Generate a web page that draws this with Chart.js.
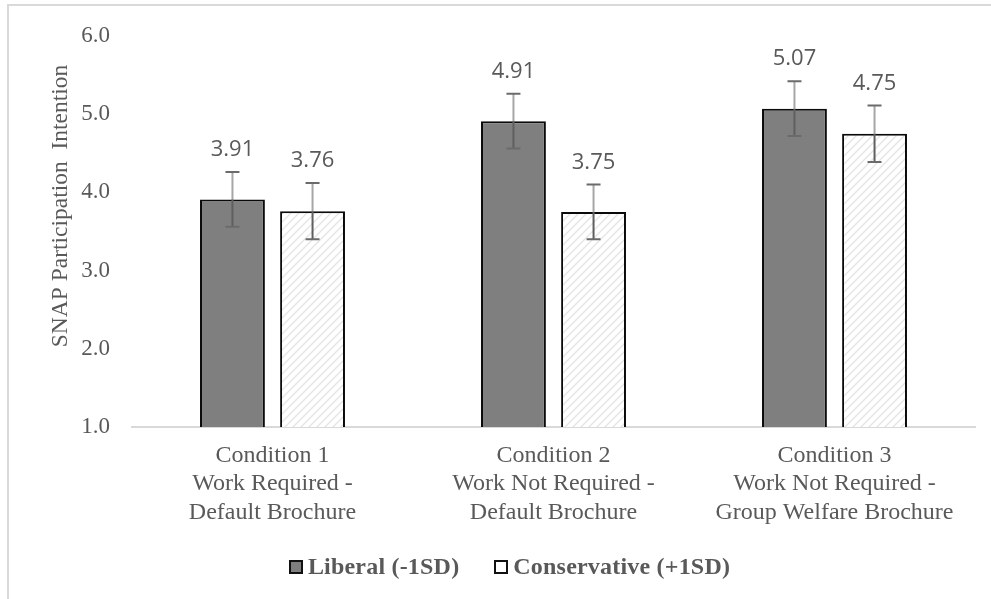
<!DOCTYPE html>
<html>
<head>
<meta charset="utf-8">
<script src="https://cdn.jsdelivr.net/npm/chart.js@4"></script>
<style>
  html, body { margin:0; padding:0; background:#fff; }
  #wrap { position:relative; width:991px; height:599px; overflow:hidden; }
  #frame { position:absolute; left:7px; top:4px; right:-5px; bottom:-5px; border-left:2px solid #d9d9d9; border-top:2px solid #d9d9d9; }
  #legend { position:absolute; left:14px; width:991px; top:553px; display:flex; justify-content:center; gap:35px;
            font-family:'Liberation Serif', serif; font-weight:bold; font-size:24px; letter-spacing:0.2px; color:#595959; }
  #legend span.item { display:flex; align-items:center; }
  #legend span.box { display:inline-block; width:10px; height:10px; border:2px solid #111; margin-right:5px; margin-left:-18px; }
</style>
</head>
<body>
<div id="wrap">
  <div id="frame"></div>
  <canvas id="c" width="991" height="599"></canvas>
  <div id="legend"></div>
</div>
<script>
// values
const categories = [
  ['Condition 1', 'Work Required -', 'Default Brochure'],
  ['Condition 2', 'Work Not Required -', 'Default Brochure'],
  ['Condition 3', 'Work Not Required -', 'Group Welfare Brochure']
];
const seriesNames = ['Liberal (-1SD)', 'Conservative (+1SD)'];
const liberal = [3.91, 4.91, 5.07];
const conservative = [3.76, 3.75, 4.75];
const liberalErr = [0.35, 0.35, 0.35];
const conservativeErr = [0.36, 0.35, 0.36];
const yTicks = [1, 2, 3, 4, 5, 6];

const SERIF = "'Liberation Serif', 'Times New Roman', serif";

// light diagonal hatch for the conservative bars
function hatch(){
  const p = document.createElement('canvas');
  p.width = 8; p.height = 8;
  const g = p.getContext('2d');
  g.fillStyle = '#fff'; g.fillRect(0,0,8,8);
  g.strokeStyle = '#e4e4e4'; g.lineWidth = 1.3;
  g.beginPath();
  g.moveTo(0,8); g.lineTo(8,0);
  g.moveTo(-4,4); g.lineTo(4,-4);
  g.moveTo(4,12); g.lineTo(12,4);
  g.stroke();
  return g.createPattern(p, 'repeat');
}

const errs = [liberalErr, conservativeErr];

const errorBars = {
  id:'errorBars',
  afterDatasetsDraw(chart){
    const ctx = chart.ctx, y = chart.scales.y;
    chart.data.datasets.forEach((ds, di) => {
      chart.getDatasetMeta(di).data.forEach((bar, i) => {
        const v = ds.data[i], e = errs[di][i];
        const top = y.getPixelForValue(v + e), bot = y.getPixelForValue(v - e);
        ctx.save();
        ctx.lineWidth = 2;
        ctx.strokeStyle = '#a6a6a6';
        ctx.beginPath(); ctx.moveTo(bar.x, top); ctx.lineTo(bar.x, bar.y); ctx.stroke();
        ctx.strokeStyle = '#5f5f5f';
        ctx.beginPath(); ctx.moveTo(bar.x, bar.y); ctx.lineTo(bar.x, bot); ctx.stroke();
        ctx.strokeStyle = '#6b6b6b';
        ctx.beginPath();
        ctx.moveTo(bar.x - 7, top); ctx.lineTo(bar.x + 7, top);
        ctx.moveTo(bar.x - 7, bot); ctx.lineTo(bar.x + 7, bot);
        ctx.stroke();
        // value label
        ctx.fillStyle = '#595959';
        ctx.font = '22px "Open Sans"';
        ctx.textAlign = 'center';
        ctx.textBaseline = 'alphabetic';
        ctx.fillText(v.toFixed(2), bar.x, top - 16);
        ctx.restore();
      });
    });
  }
};

const yTitle = {
  id:'yTitle',
  afterDraw(chart){
    const ctx = chart.ctx;
    ctx.save();
    ctx.translate(61, 206);
    ctx.rotate(-Math.PI/2);
    ctx.fillStyle = '#595959';
    ctx.font = '23.5px ' + SERIF;
    ctx.textAlign = 'center';
    ctx.textBaseline = 'middle';
    ctx.fillText('SNAP Participation  Intention', 0, 0);
    ctx.restore();
  }
};

new Chart(document.getElementById('c'), {
  type:'bar',
  data:{
    labels: categories,
    datasets:[
      { label: seriesNames[0], data: liberal, backgroundColor:'#7f7f7f', borderColor:'#0a0a0a', borderWidth:2,
        categoryPercentage:0.57, barPercentage:0.81 },
      { label: seriesNames[1], data: conservative, backgroundColor: hatch(), borderColor:'#0a0a0a', borderWidth:2,
        categoryPercentage:0.57, barPercentage:0.81 }
    ]
  },
  options:{
    responsive:false,
    animation:false,
    layout:{ padding:{ top:36, right:16, left:0, bottom:0 } },
    plugins:{ legend:{display:false}, tooltip:{enabled:false} },
    scales:{
      x:{
        grid:{ display:false, drawTicks:false },
        border:{ display:true, color:'#d9d9d9', width:2 },
        ticks:{ color:'#595959', font:{ family:SERIF, size:24, lineHeight:1.2 }, padding:14, maxRotation:0 },
        afterFit(s){ s.height = 172; }
      },
      y:{
        min:1, max:6,
        afterBuildTicks(s){ s.ticks = yTicks.map(v => ({ value:v })); },
        grid:{ display:false, drawTicks:false },
        border:{ display:false },
        ticks:{ color:'#595959', font:{ family:SERIF, size:23 }, padding:22,
                callback: v => Number(v).toFixed(1) },
        afterFit(s){ s.width = 132; }
      }
    }
  },
  plugins:[errorBars, yTitle]
});

// legend as html text
const legend = document.getElementById('legend');
const fills = ['#7f7f7f', '#fff'];
seriesNames.forEach((n, i) => {
  const it = document.createElement('span');
  it.className = 'item';
  it.innerHTML = '<span class="box" style="background:' + fills[i] + '"></span>' + n;
  it.style.paddingLeft = '18px';
  legend.appendChild(it);
});
</script>
</body>
</html>
